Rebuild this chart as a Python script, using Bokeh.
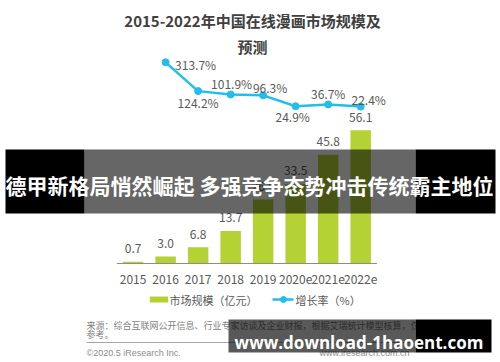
from bokeh.plotting import figure
from bokeh.models import ColumnDataSource, Range1d
from bokeh.core.properties import value
from bokeh.embed import file_html
from bokeh.resources import INLINE

# ---- data ----
years = ["2015", "2016", "2017", "2018", "2019", "2020e", "2021e", "2022e"]
market_size = [0.7, 3.0, 6.8, 13.7, 26.9, 33.5, 45.8, 56.1]          # 亿元
growth_years = ["2016", "2017", "2018", "2019", "2020e", "2021e", "2022e"]
growth_rate = [313.7, 124.2, 101.9, 96.3, 24.9, 36.7, 22.4]           # %
title_lines = ["2015-2022年中国在线漫画市场规模及", "预测"]
legend_labels = ["市场规模（亿元）", "增长率（%）"]
source_lines = ["来源：综合互联网公开信息、行业专家访谈及企业财报，根据艾瑞统计模型核算，仅供", "参考。"]
copyright_text = "©2020.5 iResearch Inc."
site_text = "www.iresearch.com.cn"
banner_text = "德甲新格局悄然崛起 多强竞争态势冲击传统霸主地位"
watermark_text = "www.download-1haoent.com"

# label placement offsets (px) for the growth-rate labels
rate_dx = [30, 0, 1, 7, -3, 0, 8]
rate_dy = [2, 11, -11, -8, 10, -11, -7]

# ---- styles ----
BAR = "#b4d234"
LINE = "#22bdea"
GREY = "#595959"
CJK = value("Noto Sans CJK SC")

W, H = 500, 362
p = figure(width=W, height=H, output_backend="svg", toolbar_location=None, tools="",
           x_range=Range1d(-4.079, 11.301), y_range=Range1d(-41.68, 110.74),
           x_axis_location=None, y_axis_location=None, min_border=0)
p.outline_line_color = None
p.grid.visible = False
p.background_fill_color = "white"
p.border_fill_color = "white"
p.extra_y_ranges = {"rate": Range1d(-1661.2, 720.4), "py": Range1d(362, 0)}
p.extra_x_ranges = {"px": Range1d(0, 500)}

idx = list(range(len(years)))
bar_src = ColumnDataSource(dict(x=idx, size=market_size, year=years,
                                lab=[f"{v:.1f}" for v in market_size]))
gidx = [years.index(y) for y in growth_years]
rate_src = ColumnDataSource(dict(x=gidx, rate=growth_rate,
                                 lab=[f"{v:.1f}%" for v in growth_rate],
                                 dx=rate_dx, dy=rate_dy))

# bars
p.vbar(x="x", top="size", width=0.63, source=bar_src, fill_color=BAR, line_color=None)
# bar value labels
p.text(x="x", y="size", text="lab", source=bar_src, y_offset=-13,
       text_align="center", text_baseline="middle", text_font=CJK,
       text_font_size="12px", text_color=GREY)
# x axis line + tick labels
p.segment(x0=[-0.5], y0=[0], x1=[len(years) - 0.5], y1=[0], line_color="#8c8c8c", line_width=1)
p.text(x="x", y=0, text="year", source=bar_src, y_offset=16,
       text_align="center", text_baseline="middle", text_font=CJK,
       text_font_size="12px", text_color=GREY)

# growth line
p.line(x="x", y="rate", source=rate_src, y_range_name="rate", line_color=LINE, line_width=2.5)
p.scatter(x="x", y="rate", source=rate_src, y_range_name="rate", size=7,
          fill_color=LINE, line_color=LINE)
p.text(x="x", y="rate", text="lab", source=rate_src, y_range_name="rate",
       x_offset="dx", y_offset="dy", text_align="center", text_baseline="middle",
       text_font=CJK, text_font_size="12px", text_color=GREY)

# decorations in page-pixel coordinates
PX = dict(x_range_name="px", y_range_name="py")
# title
p.text(x=[252, 252], y=[20, 45.5], text=title_lines, text_align="center",
       text_baseline="alphabetic", text_font=CJK, text_font_style="bold",
       text_font_size="15px", text_color="#404040", **PX)
# legend
p.quad(left=[149.3], right=[167.7], top=[296], bottom=[302], fill_color=BAR, line_color=None, **PX)
p.segment(x0=[272], y0=[299], x1=[293], y1=[299], line_color=LINE, line_width=2.5, **PX)
p.scatter(x=[283], y=[299], size=6, fill_color=LINE, line_color=LINE, **PX)
p.text(x=[169, 295], y=[299, 299], text=legend_labels, text_align="left",
       text_baseline="middle", text_font=CJK, text_font_size="11px", text_color=GREY, **PX)
# source
p.text(x=[86, 86], y=[325, 334], text=source_lines, text_align="left", text_baseline="middle",
       text_font=CJK, text_font_size="9px", text_color="#7f7f7f", **PX)
p.segment(x0=[86], y0=[342], x1=[413], y1=[342], line_color="#a6a6a6", line_width=1, **PX)
p.text(x=[86], y=[352], text=[copyright_text], text_align="left", text_baseline="middle",
       text_font=value("Liberation Sans"), text_font_size="9px", text_color="#8c8c8c", **PX)
p.text(x=[409], y=[352], text=[site_text], text_align="right", text_baseline="middle",
       text_font=value("Liberation Sans"), text_font_size="9px", text_color="#8c8c8c", **PX)

# banner overlay
p.quad(left=[5, 84, 415], right=[84, 415, 495], top=[149, 149, 149], bottom=[213, 213, 213],
       fill_color="black", fill_alpha=[1, 0.6, 1], line_color=None, **PX)
p.text(x=[249], y=[184.5], text=[banner_text], text_align="center", text_baseline="middle",
       text_font=CJK, text_font_style="bold", text_font_size="21px", text_color="white", **PX)

# watermark overlay
p.quad(left=[228, 415], right=[415, 491], top=[319, 319], bottom=[352, 352],
       fill_color="black", fill_alpha=[0.65, 1], line_color=None, **PX)
p.text(x=[358.5], y=[341.7], text=[watermark_text], text_align="center", text_baseline="alphabetic",
       text_font=value("Open Sans"), text_font_style="bold", text_font_size="17px",
       text_color="white", **PX)

open("out.html", "w").write(file_html(p, INLINE))
